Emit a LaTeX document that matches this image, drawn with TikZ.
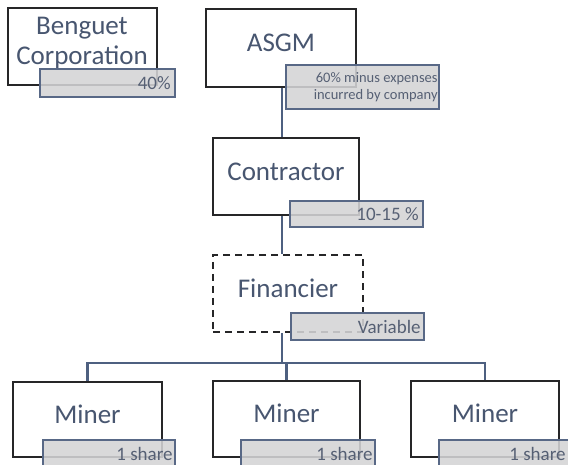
\documentclass[tikz,border=0pt]{standalone}
\usepackage{fontspec}
\setmainfont{Carlito}
\begin{document}
\begin{tikzpicture}[x=1pt,y=-1pt,
  box/.style={draw=boxline,line width=2.2pt,minimum width=#1,inner sep=0pt},
  maintxt/.style={text=txtcol,inner sep=0pt,font=\fontsize{27}{30}\selectfont,align=center},
  tag/.style={draw=tagline,line width=1.6pt,fill=tagfill,fill opacity=0.88,draw opacity=1,inner sep=0pt},
  tagtxt/.style={text=tagtxtcol,inner sep=0pt,anchor=east,font=\fontsize{19}{22}\selectfont,text opacity=1},
  conn/.style={draw=conncol,line width=2.2pt}]
\definecolor{boxline}{RGB}{38,38,40}
\definecolor{txtcol}{RGB}{72,86,112}
\definecolor{tagline}{RGB}{88,104,134}
\definecolor{tagfill}{RGB}{212,212,214}
\definecolor{tagtxtcol}{RGB}{86,96,116}
\definecolor{conncol}{RGB}{78,96,128}
\useasboundingbox (0,0) rectangle (568,465);
\clip (0,0) rectangle (568,465);
\fill[white] (0,0) rectangle (568,465);
% boxes
\node[box=149pt,minimum height=77pt] (ben) at (82.5,46.5) {};
\node[box=150pt,minimum height=78pt] (asgm) at (281,48) {};
\node[box=146pt,minimum height=77pt] (con) at (286,176.5) {};
\node[box=150pt,minimum height=77pt,dash pattern=on 7pt off 5pt] (fin) at (288,293.5) {};
\node[box=149pt,minimum height=75pt] (m1) at (87.5,419.5) {};
\node[box=147pt,minimum height=76pt] (m2) at (286.5,419) {};
\node[box=148pt,minimum height=76pt] (m3) at (485,419) {};
% texts
\node[maintxt] (tben) at (82,43) {Benguet\\Corporation};
\node[maintxt] (tasgm) at ([yshift=5.5pt]asgm.center) {ASGM};
\node[maintxt] (tcon) at ([yshift=5pt]con.center) {Contractor};
\node[maintxt] (tfin) at ([yshift=5pt]fin.center) {Financier};
\node[maintxt] (tm1) at ([yshift=5.5pt]m1.center) {Miner};
\node[maintxt] (tm2) at ([yshift=5.5pt]m2.center) {Miner};
\node[maintxt] (tm3) at ([yshift=5.5pt]m3.center) {Miner};
% connectors
\coordinate (bus) at (282,363);
\draw[conn] (asgm.south -| bus) -- (con.north -| bus);
\draw[conn] (con.south -| bus) -- (fin.north -| bus);
\draw[conn] (fin.south -| bus) -- (bus);
\draw[conn] (m1.north) |- (bus) -| (m3.north);
\draw[conn] (m2.north) -- (m2.north |- bus);
% tags
\node[tag,minimum width=135pt,minimum height=28pt] (lben) at (107.5,83) {};
\node[tag,minimum width=153pt,minimum height=44pt] (lasgm) at (362.5,87) {};
\node[tag,minimum width=133pt,minimum height=26pt] (lcon) at (356.5,214) {};
\node[tag,minimum width=133pt,minimum height=27pt] (lfin) at (357.5,326.5) {};
\node[tag,minimum width=132pt,minimum height=27pt] (lm1) at (109,453.5) {};
\node[tag,minimum width=134pt,minimum height=27pt] (lm2) at (308,453.5) {};
\node[tag,minimum width=134pt,minimum height=27pt] (lm3) at (506,453.5) {};
\node[tagtxt] at ([xshift=-5pt]lben.east) {40\%};
\node[tagtxt,align=right,font=\fontsize{14.5}{17}\selectfont] at ([xshift=-2pt]lasgm.east) {60\% minus expenses\\incurred by company};
\node[tagtxt] at ([xshift=-5pt]lcon.east) {10-15 \%};
\node[tagtxt] at ([xshift=-4pt]lfin.east) {Variable};
\node[tagtxt] at ([xshift=-3pt]lm1.east) {1 share};
\node[tagtxt] at ([xshift=-3pt]lm2.east) {1 share};
\node[tagtxt] at ([xshift=-8pt]lm3.east) {1 share};
\end{tikzpicture}
\end{document}
